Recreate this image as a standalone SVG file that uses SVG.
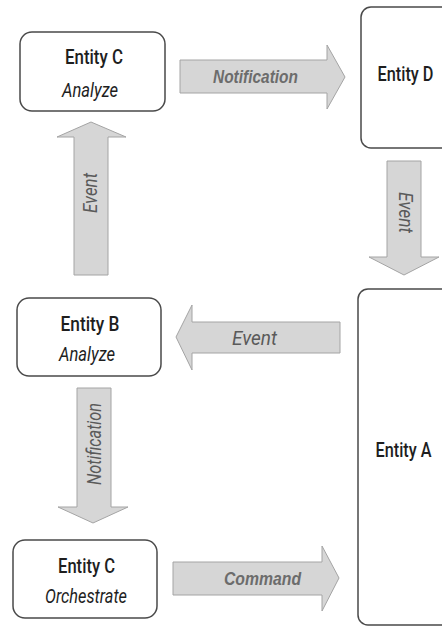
<svg xmlns="http://www.w3.org/2000/svg" width="442" height="626" viewBox="0 0 442 626">
  <style>
    .box { fill: #ffffff; stroke: #4a4a4a; stroke-width: 1.5; }
    .arrow { fill: #d6d6d6; stroke: #a4a4a4; stroke-width: 1; }
    .title { font-family: Roboto, "Liberation Sans", sans-serif; font-weight: 500; font-size: 21px; fill: #1e1e1e; text-anchor: middle; }
    .role { font-family: Roboto, "Liberation Sans", sans-serif; font-size: 20px; font-style: italic; fill: #1e1e1e; text-anchor: middle; }
    .label { font-family: "Liberation Sans", Arial, sans-serif; font-weight: bold; font-style: italic; font-size: 18.5px; fill: #6c6c6c; text-anchor: middle; }
    .elabel { font-family: Roboto, "Liberation Sans", sans-serif; font-style: italic; font-size: 20px; fill: #5a5a5a; text-anchor: middle; }
  </style>

  <!-- connectors: block arrows -->
  <g id="connectors">
    <!-- Entity C (Analyze) to Entity D -->
    <g id="edge-notification-top">
      <path class="arrow" d="M180,60 H327 V45 L345,77 L327,109 V93 H180 Z"/>
      <text class="label" x="255.5" y="83" textLength="85" lengthAdjust="spacingAndGlyphs">Notification</text>
    </g>
    <!-- Entity D to Entity A -->
    <g id="edge-event-right">
      <path class="arrow" d="M387,161 H421 V257 H439 L404,275 L369,257 H387 Z"/>
      <text class="elabel" transform="translate(399,212.5) rotate(90)" textLength="41" lengthAdjust="spacingAndGlyphs">Event</text>
    </g>
    <!-- Entity A to Entity B -->
    <g id="edge-event-mid">
      <path class="arrow" d="M340,322 H192 V305 L176,337 L192,370 V353 H340 Z"/>
      <text class="elabel" x="254.5" y="345" textLength="45" lengthAdjust="spacingAndGlyphs">Event</text>
    </g>
    <!-- Entity B to Entity C (Analyze) -->
    <g id="edge-event-left">
      <path class="arrow" d="M74,275 V137 H57 L91,122 L126,137 H108 V275 Z"/>
      <text class="elabel" transform="translate(97,193) rotate(-90)" textLength="40" lengthAdjust="spacingAndGlyphs">Event</text>
    </g>
    <!-- Entity B to Entity C (Orchestrate) -->
    <g id="edge-notification-left">
      <path class="arrow" d="M77,388 H111 V507 H128 L93,523 L58,507 H77 Z"/>
      <text class="elabel" transform="translate(101,444) rotate(-90)" textLength="82" lengthAdjust="spacingAndGlyphs">Notification</text>
    </g>
    <!-- Entity C (Orchestrate) to Entity A -->
    <g id="edge-command">
      <path class="arrow" d="M173,562 H322 V546 L339,578 L322,611 V595 H173 Z"/>
      <text class="label" x="262.5" y="585" textLength="77" lengthAdjust="spacingAndGlyphs">Command</text>
    </g>
  </g>

  <g id="entity-c-analyze">
    <rect class="box" x="20" y="32" width="145" height="79" rx="12"/>
    <text class="title" x="94" y="64" textLength="58" lengthAdjust="spacingAndGlyphs">Entity C</text>
    <text class="role" x="90" y="96.5" textLength="56" lengthAdjust="spacingAndGlyphs">Analyze</text>
  </g>

  <!-- right-hand boxes run off the page edge, so their right side is open -->
  <g id="entity-d">
    <path class="box" d="M442,7 H371 A10,10 0 0 0 361,17 V138 A10,10 0 0 0 371,148 H442"/>
    <text class="title" x="405.5" y="80.5" textLength="56" lengthAdjust="spacingAndGlyphs">Entity D</text>
  </g>

  <g id="entity-b">
    <rect class="box" x="17" y="298" width="144" height="78" rx="12"/>
    <text class="title" x="90" y="330.5" textLength="59" lengthAdjust="spacingAndGlyphs">Entity B</text>
    <text class="role" x="87" y="361" textLength="56" lengthAdjust="spacingAndGlyphs">Analyze</text>
  </g>

  <g id="entity-a">
    <path class="box" d="M442,289 H368 A10,10 0 0 0 358,299 V615 A10,10 0 0 0 368,625 H442"/>
    <text class="title" x="403.5" y="456.5" textLength="56" lengthAdjust="spacingAndGlyphs">Entity A</text>
  </g>

  <g id="entity-c-orchestrate">
    <rect class="box" x="13" y="540" width="144" height="78" rx="12"/>
    <text class="title" x="86.5" y="572.5" textLength="57" lengthAdjust="spacingAndGlyphs">Entity C</text>
    <text class="role" x="86" y="603" textLength="82" lengthAdjust="spacingAndGlyphs">Orchestrate</text>
  </g>
</svg>
